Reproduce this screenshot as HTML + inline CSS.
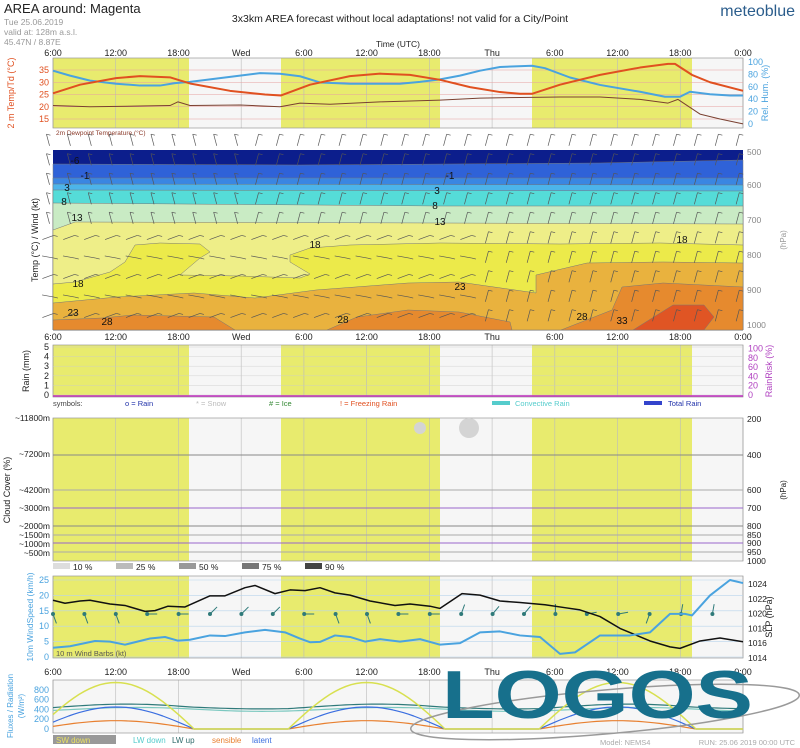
<!DOCTYPE html>
<html><head><meta charset="utf-8"><style>
body{margin:0;background:#fff}
svg{display:block;font-family:"Liberation Sans",sans-serif}
</style></head><body>
<svg id="s" width="800" height="748" viewBox="0 0 800 748" xmlns="http://www.w3.org/2000/svg">
<rect width="800" height="748" fill="#fff"/>
<text x="4" y="13" font-size="13" fill="#222">AREA around: Magenta</text>
<text x="4" y="25" font-size="8.5" fill="#999">Tue 25.06.2019</text>
<text x="4" y="35" font-size="8.5" fill="#999">valid at: 128m a.s.l.</text>
<text x="4" y="45" font-size="8.5" fill="#999">45.47N / 8.87E</text>
<text x="400" y="22" font-size="10.5" fill="#222" text-anchor="middle">3x3km AREA forecast without local adaptations! not valid for a City/Point</text>
<text x="795" y="16" font-size="16" fill="#2b5d8c" text-anchor="end">meteoblue</text>
<text x="398" y="47" font-size="8.5" fill="#222" text-anchor="middle">Time (UTC)</text>
<g id="g"></g>
<text x="600" y="745" font-size="7.5" fill="#aaa">Model: NEMS4</text>
<text x="795" y="745" font-size="7.5" fill="#aaa" text-anchor="end">RUN: 25.06 2019 00:00 UTC</text>
</svg>
<script>
const g=document.getElementById('g');let h='';
const X=t=>53+t*690/66;
const L=53,R=743;
function pl(pts,c,w,f){return `<polyline points="${pts.map(p=>p.join(',')).join(' ')}" fill="${f||'none'}" stroke="${c}" stroke-width="${w}" stroke-linejoin="round"/>`;}
function tx(x,y,s,sz,c,a,extra){return `<text x="${x}" y="${y}" font-size="${sz}" fill="${c}" text-anchor="${a||'start'}" ${extra||''}>${s}</text>`;}
const tl=['6:00','12:00','18:00','Wed','6:00','12:00','18:00','Thu','6:00','12:00','18:00','0:00'];
function times(y){tl.forEach((s,i)=>h+=tx(X(i*6),y,s,9,'#222','middle'));}
function panel(t,b,yel){
 h+=`<rect x="${L}" y="${t}" width="${R-L}" height="${b-t}" fill="#f6f6f6"/>`;
 if(yel)[[53,189],[281,440],[532,692]].forEach(a=>h+=`<rect x="${a[0]}" y="${t}" width="${a[1]-a[0]}" height="${b-t}" fill="#e8eb6e"/>`);
 for(let i=0;i<=11;i++)h+=`<line x1="${X(i*6)}" y1="${t}" x2="${X(i*6)}" y2="${b}" stroke="#bbb" stroke-width="0.6"/>`;
 h+=`<rect x="${L}" y="${t}" width="${R-L}" height="${b-t}" fill="none" stroke="#999" stroke-width="0.7"/>`;
}
times(56);
panel(58,128,1);
[15,20,25,30,35].forEach(T=>{const y=119-(T-15)*2.45;h+=`<line x1="${L}" y1="${y}" x2="${R}" y2="${y}" stroke="#e6a0a0" stroke-width="0.5"/>`;h+=tx(49,y+3,T,9,'#e05020','end');});
[0,20,40,60,80,100].forEach(r=>h+=tx(748,124-0.62*r+3,r,9,'#4aa3df'));
h+=tx(14,93,'2 m Temp/Td (°C)',9,'#e05020','middle','transform="rotate(-90 14 93)"');
h+=tx(768,93,'Rel. Hum. (%)',9,'#4aa3df','middle','transform="rotate(-90 768 93)"');
h+=tx(56,135,'2m Dewpoint Temperature (°C)',6.5,'#8b3a2a');
const yT=T=>119-(T-15)*2.45,yR=r=>124-0.62*r;
h+=pl([[53,20.5],[90,20],[140,20.3],[170,20.5],[178,22],[190,20.5],[240,20.7],[280,20],[300,21.5],[330,21],[380,22],[440,22.7],[480,23.5],[520,23.8],[560,24],[600,24],[640,23],[668,21.5],[678,23],[700,17],[720,15],[743,13]].map(p=>[p[0],yT(p[1])]),'#7a4030',1);
h+=pl([[53,86],[70,78],[90,70],[116,65],[140,62],[160,62],[175,66],[190,68],[210,72],[240,78],[260,82],[280,81],[300,77],[320,67],[350,65],[400,65],[420,68],[440,72],[460,78],[480,86],[500,92],[532,94],[545,90],[570,75],[600,63],[640,52],[665,44],[680,44],[690,52],[710,48],[730,46],[743,46]].map(p=>[p[0],yR(p[1])]),'#4aa3df',2);
h+=pl([[53,25.5],[80,29],[116,31.7],[140,32.5],[170,32],[178,31],[190,29.5],[230,26.5],[265,25],[281,24.6],[310,29],[350,32.5],[380,33.5],[410,33],[440,31],[470,28],[500,26],[520,25.3],[532,25.3],[560,29],[600,33],[640,36],[668,37.5],[675,37.5],[692,33],[710,30],[743,26.5]].map(p=>[p[0],yT(p[1])]),'#e05020',2);
const T1=150,B1=330;
h+=`<rect x="${L}" y="${T1}" width="${R-L}" height="${B1-T1}" fill="#eeee88"/>`;
function band(top,c){h+=`<polygon points="${top.map(p=>p.join(',')).join(' ')} ${R},${B1} ${L},${B1}" fill="${c}" stroke="#777" stroke-width="0.5"/>`;}
h+=`<rect x="${L}" y="${T1}" width="${R-L}" height="75" fill="#0c1e8c"/>`;
band([[53,164],[300,165],[600,163],[743,160]],'#2f62d8');
band([[53,178],[743,178]],'#3a86e2');
band([[53,184],[743,185]],'#4cb4ea');
band([[53,190],[743,191]],'#55dcd8');
band([[53,203],[440,206],[743,206]],'#c9ebc4');
band([[53,230],[75,222],[440,223],[743,224]],'#eeee88');
h+=`<polygon points="53,284 75,282 110,272 125,262 135,245 160,243 200,244 210,252 200,258 180,275 240,276 300,278 310,274 290,262 290,255 310,248 350,245 440,243 560,244 660,243 743,245 743,330 53,330" fill="#ecea4a" stroke="#777" stroke-width="0.5"/>`;
band([[53,303],[117,297],[194,293],[255,298],[316,290],[408,283],[459,282],[536,293],[536,275],[587,263],[663,262],[743,263]],'#e9b23e');
h+=`<polygon points="53,320 102,318 133,315 214,317 235,330 53,330" fill="#e68a2e" stroke="#777" stroke-width="0.5"/>`;
h+=`<polygon points="327,330 357,317 408,310 459,312 510,322 512,330" fill="#e68a2e" stroke="#777" stroke-width="0.5"/>`;
h+=`<polygon points="561,330 612,310 622,287 663,283 743,287 743,330" fill="#e68a2e" stroke="#777" stroke-width="0.5"/>`;
h+=`<polygon points="633,330 673,305 704,305 714,317 704,330" fill="#e05524" stroke="#777" stroke-width="0.5"/>`;
[[75,164,'-6'],[85,179,'-1'],[450,179,'-1'],[67,191,'3'],[437,194,'3'],[64,205,'8'],[435,209,'8'],[77,221,'13'],[440,225,'13'],[315,248,'18'],[682,243,'18'],[78,287,'18'],[460,290,'23'],[73,316,'23'],[107,325,'28'],[343,323,'28'],[582,320,'28'],[622,324,'33']].forEach(a=>h+=tx(a[0],a[1],a[2],10,'#111','middle'));
for(let i=0;i<34;i++){const x=48+i*20.9;for(let j=0;j<10;j++){const y=140+j*19.5;const up=j<5||i>20;const ang=up?(i<10?-15:15):(j%2?70:100);const r=ang*Math.PI/180;const dx=Math.sin(r)*6,dy=Math.cos(r)*6;h+=`<line x1="${x-dx}" y1="${y+dy}" x2="${x+dx}" y2="${y-dy}" stroke="#555" stroke-width="0.7"/><line x1="${x+dx}" y1="${y-dy}" x2="${x+dx+4}" y2="${y-dy+1}" stroke="#555" stroke-width="0.7"/>`;}}
[500,600,700,800,900,1000].forEach((p,i)=>h+=tx(747,[155,188,223,258,293,328][i],p,8.5,'#888'));
h+=tx(786,240,'(hPa)',8,'#999','middle','transform="rotate(-90 786 240)"');
h+=tx(38,240,'Temp (°C) / Wind (kt)',9,'#222','middle','transform="rotate(-90 38 240)"');
times(340);
panel(345,397,1);
[0,1,2,3,4,5].forEach(v=>{const y=395-v*9.6;h+=tx(49,y+3,v,9,'#222','end');h+=`<line x1="${L}" y1="${y}" x2="${R}" y2="${y}" stroke="#ccc" stroke-width="0.4"/>`;});
[0,20,40,60,80,100].forEach((v,i)=>h+=tx(748,395-i*9.3+3,v,9,'#b040c0'));
h+=`<line x1="${L}" y1="396" x2="${R}" y2="396" stroke="#c030c0" stroke-width="1.5"/>`;
h+=tx(29,371,'Rain (mm)',9,'#222','middle','transform="rotate(-90 29 371)"');
h+=tx(772,371,'RainRisk (%)',9,'#b040c0','middle','transform="rotate(-90 772 371)"');
h+=tx(53,406,'symbols:',7.5,'#444')+tx(125,406,'o = Rain',7.5,'#2233aa')+tx(196,406,'* = Snow',7.5,'#bbb')+tx(269,406,'# = Ice',7.5,'#338833')+tx(340,406,'! = Freezing Rain',7.5,'#e05020')+tx(515,406,'Convective Rain',7.5,'#5cc')+tx(668,406,'Total Rain',7.5,'#2233aa');
h+=`<rect x="492" y="401" width="18" height="4" fill="#5cc"/><rect x="644" y="401" width="18" height="4" fill="#3344cc"/>`;
panel(418,561,1);
[[455,'#888'],[490,'#aaa'],[508,'#9966cc'],[526,'#888'],[535,'#aaa'],[543,'#9966cc'],[552,'#aaa']].forEach(a=>h+=`<line x1="${L}" y1="${a[0]}" x2="${R}" y2="${a[0]}" stroke="${a[1]}" stroke-width="1"/>`);
[[418,'~11800m'],[454,'~7200m'],[490,'~4200m'],[508,'~3000m'],[526,'~2000m'],[535,'~1500m'],[544,'~1000m'],[553,'~500m']].forEach(a=>h+=tx(50,a[0]+3,a[1],8.5,'#222','end'));
[[419,200],[455,400],[490,600],[508,700],[526,800],[535,850],[543,900],[552,950],[561,1000]].forEach(a=>h+=tx(747,a[0]+3,a[1],8.5,'#222'));
h+=tx(786,490,'(hPa)',8,'#222','middle','transform="rotate(-90 786 490)"');
h+=tx(10,490,'Cloud Cover (%)',9,'#222','middle','transform="rotate(-90 10 490)"');
h+=`<circle cx="420" cy="428" r="6" fill="#d4d4d4"/><circle cx="469" cy="428" r="10" fill="#d4d4d4"/>`;
[['#ddd','10 %'],['#bbb','25 %'],['#999','50 %'],['#777','75 %'],['#444','90 %']].forEach((a,i)=>{const x=53+i*63;h+=`<rect x="${x}" y="563" width="17" height="6" fill="${a[0]}"/>`+tx(x+20,570,a[1],8.5,'#222');});
panel(576,658,1);
const yW=k=>657-k*3.08,yP=p=>658-(p-1014)*7.4;
[0,5,10,15,20,25].forEach(k=>{h+=`<line x1="${L}" y1="${yW(k)}" x2="${R}" y2="${yW(k)}" stroke="#b8d4ec" stroke-width="0.6"/>`;h+=tx(49,yW(k)+3,k,9,'#4aa3df','end');});
[1014,1016,1018,1020,1022,1024].forEach(p=>h+=tx(748,yP(p)+3,p,8.5,'#222'));
h+=tx(772,617,'SLP (hPa)',9,'#222','middle','transform="rotate(-90 772 617)"');
h+=tx(33,617,'10m WindSpeed (km/h)',8.5,'#4aa3df','middle','transform="rotate(-90 33 617)"');
h+=tx(56,656,'10 m Wind Barbs (kt)',7.5,'#555');
for(let i=0;i<22;i++){const x=53+i*31.4;const Y=614;h+=`<circle cx="${x}" cy="${Y}" r="2" fill="#2f7a7a"/>`;const a=[160,160,160,90,90,45,45,45,90,160,160,90,90,20,40,40,0,80,80,200,10,10][i]*Math.PI/180;h+=`<line x1="${x}" y1="${Y}" x2="${x+Math.sin(a)*10}" y2="${Y-Math.cos(a)*10}" stroke="#2f7a7a" stroke-width="1"/>`;}
h+=pl([[53,1021.8],[65,1021.4],[80,1021.7],[90,1021.8],[110,1021.3],[125,1021.1],[145,1020.3],[155,1020.4],[168,1021],[185,1020.9],[210,1022.4],[225,1022.4],[245,1023.5],[255,1023.8],[275,1022.7],[290,1023.2],[305,1023.1],[320,1023.5],[335,1022.8],[350,1022.5],[370,1021.7],[395,1021.1],[410,1021.3],[430,1021],[440,1020.7],[462,1022.7],[480,1022.5],[500,1021.7],[520,1021.5],[545,1021.2],[565,1020.8],[580,1020.5],[600,1019.6],[620,1018],[650,1016.3],[670,1015.5],[680,1015.3],[700,1016.3],[720,1016.7],[743,1016.2]].map(p=>[p[0],yP(p[1])]),'#111',1.5);
h+=pl([[53,3],[70,3.5],[95,5.2],[110,5],[125,4],[150,6],[165,6.5],[178,5.3],[190,5.6],[210,7],[225,6.8],[245,8],[265,8.8],[285,8],[300,6],[310,4.8],[320,4.9],[335,7],[350,6.5],[365,5],[380,5.8],[400,5],[420,5.8],[440,4],[460,4.5],[480,8],[500,8.3],[520,7],[540,6.5],[560,1],[575,1.5],[600,7],[630,7],[650,8],[670,14],[685,14],[692,13.5],[710,20],[730,25],[743,24]].map(p=>[p[0],yW(p[1])]),'#4aa3df',2);
times(675);
panel(680,733,0);
const yF=v=>729-0.049*v;
[0,200,400,600,800].forEach(v=>h+=tx(49,yF(v)+3,v,9,'#4aa3df','end'));
h+=tx(13,706,'Fluxes / Radiation',8,'#4aa3df','middle','transform="rotate(-90 13 706)"');
h+=tx(24,706,'(W/m²)',8,'#4aa3df','middle','transform="rotate(-90 24 706)"');
function curve(f){const p=[];for(let t=0;t<=66;t+=0.5)p.push([X(t).toFixed(1),yF(f(t)).toFixed(1)]);return p;}
const day=t=>{const d=((t+1.5)%24+24)%24;return d<15?Math.sin(Math.PI*d/15):0;};
h+=pl(curve(t=>400+40*Math.sin((t-2)*Math.PI/12)),'#7cc8c0',1.2);
h+=pl(curve(t=>440+40*day(t)+30*Math.sin((t-2)*Math.PI/12)),'#2f7a7a',1.2);
h+=pl(curve(t=>170*day(t)),'#e88030',1.2);
h+=pl(curve(t=>450*day(t)),'#3a6ee0',1.2);
h+=pl(curve(t=>950*day(t)),'#d8e050',1.5);
h+=`<rect x="53" y="735" width="63" height="9" fill="#999"/>`+tx(56,743,'SW down',8,'#e8e060');
h+=tx(133,743,'LW down',8,'#5cc')+tx(172,743,'LW up',8,'#2f6a6a')+tx(212,743,'sensible',8,'#e88030')+tx(252,743,'latent',8,'#3a6ee0');
h+=`<ellipse cx="605" cy="712" rx="195" ry="22" fill="none" stroke="#9a9a9a" stroke-width="1.5" transform="rotate(-5 605 712)"/>`;
h+=`<text x="442" y="718" font-size="68" font-weight="bold" fill="#17708c" textLength="311" lengthAdjust="spacingAndGlyphs">LOGOS</text>`;
g.innerHTML=h;
</script>
</body></html>
